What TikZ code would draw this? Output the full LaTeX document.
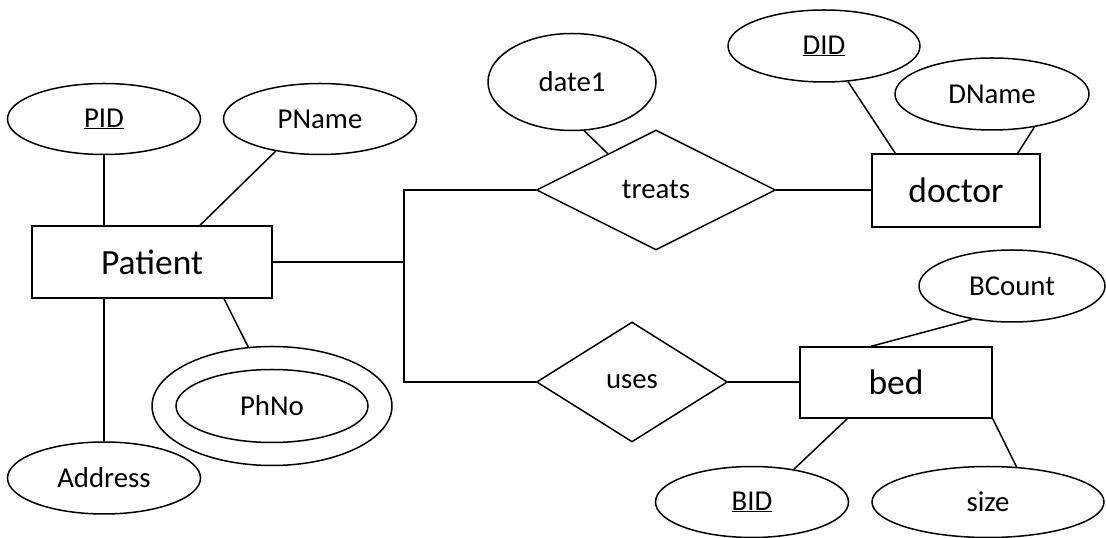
\documentclass[tikz,border=0pt]{standalone}
\usepackage{fontspec}
\setmainfont{Carlito}
\usetikzlibrary{shapes.geometric,calc}
\tikzset{
  base/.style={draw=black, line width=1.5pt, inner sep=0pt, align=center},
  attr/.style={base, ellipse, font=\fontsize{28.8}{34}\selectfont},
  entity/.style={base, rectangle, font=\fontsize{35.5}{42}\selectfont},
  rel/.style={base, diamond, font=\fontsize{28.8}{34}\selectfont},
  conn/.style={line width=1.5pt, line cap=butt}
}
\begin{document}
\begin{tikzpicture}[x=1pt,y=1pt]
\useasboundingbox (0,0) rectangle (1106,538);
% entities
\node[entity, minimum width=240pt, minimum height=72pt] (patient) at (152,276) {Patient};
\node[entity, minimum width=168pt, minimum height=73pt] (doctor) at (956,347.5) {doctor};
\node[entity, minimum width=192pt, minimum height=71pt] (bed) at (896,155.5) {bed};
% relationships
\node[rel, minimum width=239pt, minimum height=120pt] (treats) at (656,348) {treats};
\node[rel, minimum width=191pt, minimum height=120pt] (uses) at (632,156) {uses};
% attributes
\node[attr, minimum width=193pt, minimum height=71pt] (pid) at (104,419) {\underline{PID}};
\node[attr, minimum width=193pt, minimum height=71pt] (pname) at (320,419) {PName};
\node[attr, minimum width=193pt, minimum height=72pt] (address) at (104,60) {Address};
\node[attr, minimum width=240pt, minimum height=119pt] (phno) at (272,132) {};
\node[attr, minimum width=192pt, minimum height=73pt] (phnoin) at (272,132) {PhNo};
\node[attr, minimum width=168pt, minimum height=97pt] (date1) at (572,456) {date1};
\node[attr, minimum width=192pt, minimum height=72pt] (did) at (824,492) {\underline{DID}};
\node[attr, minimum width=194pt, minimum height=72pt] (dname) at (992,444) {DName};
\node[attr, minimum width=186pt, minimum height=72pt] (bcount) at (1012,252) {BCount};
\node[attr, minimum width=193pt, minimum height=71pt] (bid) at (752,36) {\underline{BID}};
\node[attr, minimum width=232pt, minimum height=71pt] (size) at (988,36) {size};
% junction
\coordinate (j) at (404,276);
% connectors
\draw[conn] (pid.south) -- (pid.south |- patient.north);
\draw[conn] ([xshift=48pt]patient.north) -- (pname.216);
\draw[conn] (address.north) -- (address.north |- patient.south);
\draw[conn] ([xshift=72pt]patient.south) -- (phno.112);
\draw[conn] (patient.east) -- (j);
\draw[conn] (treats.west) -| (j) |- (uses.west);
\draw[conn] (treats.east) -- (treats.east -| doctor.west);
\draw[conn] (date1.284) -- (treats.143);
\draw[conn] (did.304) -- ([xshift=24pt]doctor.north west);
\draw[conn] (dname.322) -- ([xshift=-23pt]doctor.north east);
\draw[conn] (uses.east) -- (uses.east -| bed.west);
\draw[conn] (bcount.220) -- ([xshift=72pt]bed.north west);
\draw[conn] ([xshift=48pt]bed.south west) -- (bid.38);
\draw[conn] (bed.south east) -- (size.51);
\end{tikzpicture}
\end{document}
